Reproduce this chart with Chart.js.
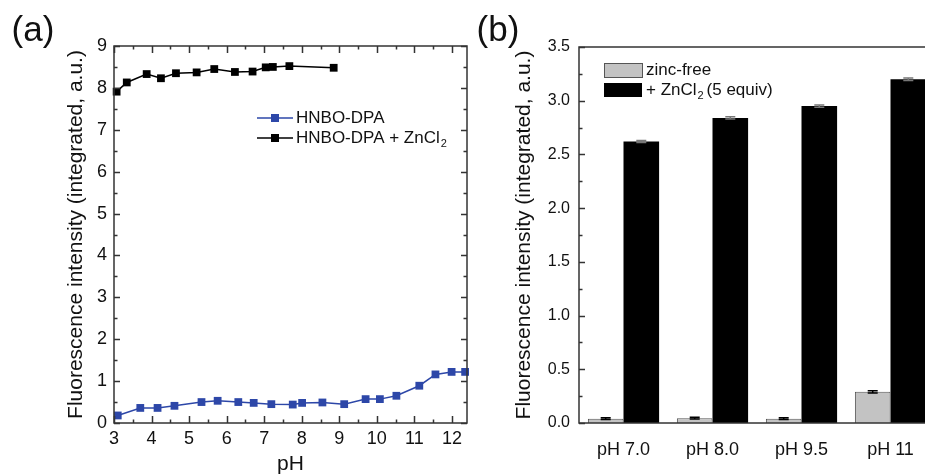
<!DOCTYPE html>
<html lang="en">
<head>
    <meta charset="UTF-8">
    <title>HNBO-DPA fluorescence vs pH</title>
    <script src="https://cdn.jsdelivr.net/npm/chart.js"></script>
    <style>
        html, body { margin: 0; padding: 0; background: #fff; overflow: hidden; width: 925px; height: 475px; }
        canvas { position: absolute; top: 0; }
        #chartA { left: 0; }
        #chartB { left: 470px; }
    </style>
</head>
<body>
    <canvas id="chartA" width="480" height="475"></canvas>
    <canvas id="chartB" width="470" height="475"></canvas>
    <script>
        // panel (a): pH titration
        const phFree = [3.10, 3.70, 4.16, 4.61, 5.33, 5.76, 6.31, 6.72, 7.19, 7.76, 8.01, 8.55, 9.13, 9.70, 10.08, 10.52, 11.13, 11.56, 11.99, 12.35];
        const intensityFree = [0.18, 0.36, 0.36, 0.41, 0.50, 0.53, 0.50, 0.48, 0.45, 0.44, 0.48, 0.49, 0.45, 0.57, 0.57, 0.65, 0.89, 1.16, 1.22, 1.22];
        const phZn = [3.07, 3.34, 3.87, 4.25, 4.65, 5.20, 5.67, 6.22, 6.69, 7.04, 7.23, 7.67, 8.85];
        const intensityZn = [7.91, 8.13, 8.33, 8.23, 8.35, 8.37, 8.45, 8.38, 8.39, 8.49, 8.50, 8.52, 8.48];
        const phTicks = [3, 4, 5, 6, 7, 8, 9, 10, 11, 12];

        // panel (b): bars
        const conditions = ['pH 7.0', 'pH 8.0', 'pH 9.5', 'pH 11'];
        const zincFree = [0.04, 0.045, 0.04, 0.29];
        const zincFreeErr = [0.008, 0.008, 0.008, 0.01];
        const withZn = [2.62, 2.84, 2.95, 3.20];
        const withZnErr = [0.01, 0.01, 0.01, 0.012];

        const FONT = "'Liberation Sans', Arial, sans-serif";
        const BLUE = '#2d47a8';
        const AXIS = '#333';
        const toPts = (xs, ys) => xs.map((x, i) => ({ x: x, y: ys[i] }));

        // inward ticks + frame
        function drawFrame(chart, o) {
            const ctx = chart.ctx;
            const a = chart.chartArea;
            ctx.save();
            ctx.strokeStyle = AXIS;
            ctx.lineWidth = 1.5;
            ctx.strokeRect(a.left, a.top, a.right - a.left, a.bottom - a.top);
            const ys = chart.scales.y;
            for (let v = o.yMin; v <= o.yMax + 1e-9; v += o.yStep / 2) {
                const major = Math.abs(v / o.yStep - Math.round(v / o.yStep)) < 1e-6;
                const len = major ? 6 : 3.5;
                const py = Math.round(ys.getPixelForValue(v)) + 0.5;
                ctx.beginPath();
                ctx.moveTo(a.left, py); ctx.lineTo(a.left + len, py);
                if (o.rightTicks) { ctx.moveTo(a.right, py); ctx.lineTo(a.right - len, py); }
                ctx.stroke();
            }
            if (o.xTicks) {
                const xs = chart.scales.x;
                for (let v = o.xMin; v <= o.xMax + 1e-9; v += 0.5) {
                    const major = Math.abs(v - Math.round(v)) < 1e-6;
                    const len = major ? 7 : 3.5;
                    const px = Math.round(xs.getPixelForValue(v)) + 0.5;
                    ctx.beginPath();
                    ctx.moveTo(px, a.bottom); ctx.lineTo(px, a.bottom - len);
                    ctx.moveTo(px, a.top); ctx.lineTo(px, a.top + len);
                    ctx.stroke();
                }
            }
            ctx.restore();
        }

        function drawText(ctx, txt, x, y, size, align) {
            ctx.font = size + 'px ' + FONT;
            ctx.fillStyle = '#111';
            ctx.textAlign = align || 'left';
            ctx.textBaseline = 'middle';
            ctx.fillText(txt, x, y);
            return ctx.measureText(txt).width;
        }

        const panelA = {
            id: 'panelA',
            afterDraw(chart) {
                drawFrame(chart, { yMin: 0, yMax: 9, yStep: 1, rightTicks: true, xTicks: true, xMin: 3, xMax: 12.4 });
                const ctx = chart.ctx;
                ctx.save();
                drawText(ctx, '(a)', 33, 31, 35, 'center');
                // legend
                const rows = [
                    { color: BLUE, text: 'HNBO-DPA', y: 118 },
                    { color: '#000', text: 'HNBO-DPA + ZnCl', y: 138, sub: '2' }
                ];
                rows.forEach(r => {
                    ctx.strokeStyle = r.color;
                    ctx.fillStyle = r.color;
                    ctx.lineWidth = 1.5;
                    ctx.beginPath();
                    ctx.moveTo(257, r.y); ctx.lineTo(293, r.y);
                    ctx.stroke();
                    ctx.fillRect(271, r.y - 4, 8, 8);
                    const w = drawText(ctx, r.text, 296, r.y, 17);
                    if (r.sub) drawText(ctx, r.sub, 296 + w + 1, r.y + 6, 11);
                });
                ctx.restore();
            }
        };

        new Chart(document.getElementById('chartA'), {
            type: 'scatter',
            data: {
                datasets: [{
                    label: 'HNBO-DPA',
                    data: toPts(phFree, intensityFree),
                    showLine: true,
                    borderColor: BLUE,
                    backgroundColor: BLUE,
                    borderWidth: 1.5,
                    pointStyle: 'rect',
                    pointRadius: 5.5,
                    pointBorderWidth: 0,
                    clip: false
                }, {
                    label: 'HNBO-DPA + ZnCl2',
                    data: toPts(phZn, intensityZn),
                    showLine: true,
                    borderColor: '#000',
                    backgroundColor: '#000',
                    borderWidth: 1.5,
                    pointStyle: 'rect',
                    pointRadius: 5.5,
                    pointBorderWidth: 0,
                    clip: false
                }]
            },
            options: {
                responsive: false,
                animation: false,
                layout: { padding: { top: 46, right: 13, left: 0, bottom: 0 } },
                plugins: { legend: { display: false }, tooltip: { enabled: false } },
                scales: {
                    x: {
                        type: 'linear', min: 3, max: 12.4,
                        afterFit: s => { s.height = 52; },
                        afterBuildTicks: s => { s.ticks = phTicks.map(v => ({ value: v })); },
                        ticks: { font: { size: 18, family: FONT }, color: '#111', padding: 5, maxRotation: 0, autoSkip: false },
                        grid: { display: false, drawTicks: false },
                        border: { display: false },
                        title: { display: true, text: 'pH', font: { size: 21, family: FONT, lineHeight: 1 }, color: '#111', padding: 0 }
                    },
                    y: {
                        min: 0, max: 9,
                        afterFit: s => { s.width = 114; },
                        ticks: { stepSize: 1, font: { size: 18, family: FONT }, color: '#111', padding: 7 },
                        grid: { display: false, drawTicks: false },
                        border: { display: false },
                        title: { display: true, text: 'Fluorescence intensity (integrated, a.u.)', font: { size: 21, family: FONT }, color: '#111', padding: { top: 64, bottom: 0 } }
                    }
                }
            },
            plugins: [panelA]
        });

        const panelB = {
            id: 'panelB',
            afterDatasetsDraw(chart) {
                const ctx = chart.ctx;
                const ys = chart.scales.y;
                const errs = [zincFreeErr, withZnErr];
                ctx.save();
                ctx.lineWidth = 1.5;
                chart.data.datasets.forEach((ds, di) => {
                    chart.getDatasetMeta(di).data.forEach((bar, i) => {
                        const v = ds.data[i];
                        const top = ys.getPixelForValue(v + errs[di][i]);
                        const bot = ys.getPixelForValue(v - errs[di][i]);
                        ctx.strokeStyle = di === 0 ? '#000' : '#777';
                        ctx.beginPath();
                        ctx.moveTo(bar.x, top); ctx.lineTo(bar.x, bot);
                        ctx.moveTo(bar.x - 5, top); ctx.lineTo(bar.x + 5, top);
                        ctx.moveTo(bar.x - 5, bot); ctx.lineTo(bar.x + 5, bot);
                        ctx.stroke();
                    });
                });
                ctx.restore();
            },
            afterDraw(chart) {
                drawFrame(chart, { yMin: 0, yMax: 3.5, yStep: 0.5, rightTicks: false, xTicks: false });
                const ctx = chart.ctx;
                ctx.save();
                drawText(ctx, '(b)', 28, 31, 35, 'center');
                ctx.lineWidth = 1;
                ctx.strokeStyle = '#555';
                ctx.fillStyle = '#c3c3c3';
                ctx.fillRect(134, 63, 38, 14);
                ctx.strokeRect(134.5, 63.5, 38, 14);
                ctx.fillStyle = '#000';
                ctx.fillRect(134, 83, 38, 14);
                drawText(ctx, 'zinc-free', 176, 70, 17);
                const w = drawText(ctx, '+ ZnCl', 176, 90, 17);
                drawText(ctx, '2', 176 + w + 1, 96, 11);
                drawText(ctx, '(5 equiv)', 176 + w + 10, 90, 17);
                ctx.restore();
            }
        };

        new Chart(document.getElementById('chartB'), {
            type: 'bar',
            data: {
                labels: conditions,
                datasets: [{
                    label: 'zinc-free',
                    data: zincFree,
                    backgroundColor: '#c3c3c3',
                    borderColor: '#555',
                    borderWidth: 1,
                    barPercentage: 1,
                    categoryPercentage: 0.8
                }, {
                    label: '+ ZnCl2 (5 equiv)',
                    data: withZn,
                    backgroundColor: '#000',
                    borderColor: '#000',
                    borderWidth: 0,
                    barPercentage: 1,
                    categoryPercentage: 0.8
                }]
            },
            options: {
                responsive: false,
                animation: false,
                layout: { padding: { top: 47, right: 5, left: 0, bottom: 0 } },
                plugins: { legend: { display: false }, tooltip: { enabled: false } },
                scales: {
                    x: {
                        afterFit: s => { s.height = 52; },
                        ticks: { font: { size: 18, family: FONT }, color: '#111', padding: 16, maxRotation: 0 },
                        grid: { display: false, drawTicks: false },
                        border: { display: false }
                    },
                    y: {
                        min: 0, max: 3.5,
                        afterFit: s => { s.width = 109; },
                        ticks: { stepSize: 0.5, font: { size: 16, family: FONT }, color: '#111', padding: 9, callback: v => v.toFixed(1) },
                        grid: { display: false, drawTicks: false },
                        border: { display: false },
                        title: { display: true, text: 'Fluorescence intensity (integrated, a.u.)', font: { size: 21, family: FONT }, color: '#111', padding: { top: 42, bottom: 0 } }
                    }
                }
            },
            plugins: [panelB]
        });
    </script>
</body>
</html>
